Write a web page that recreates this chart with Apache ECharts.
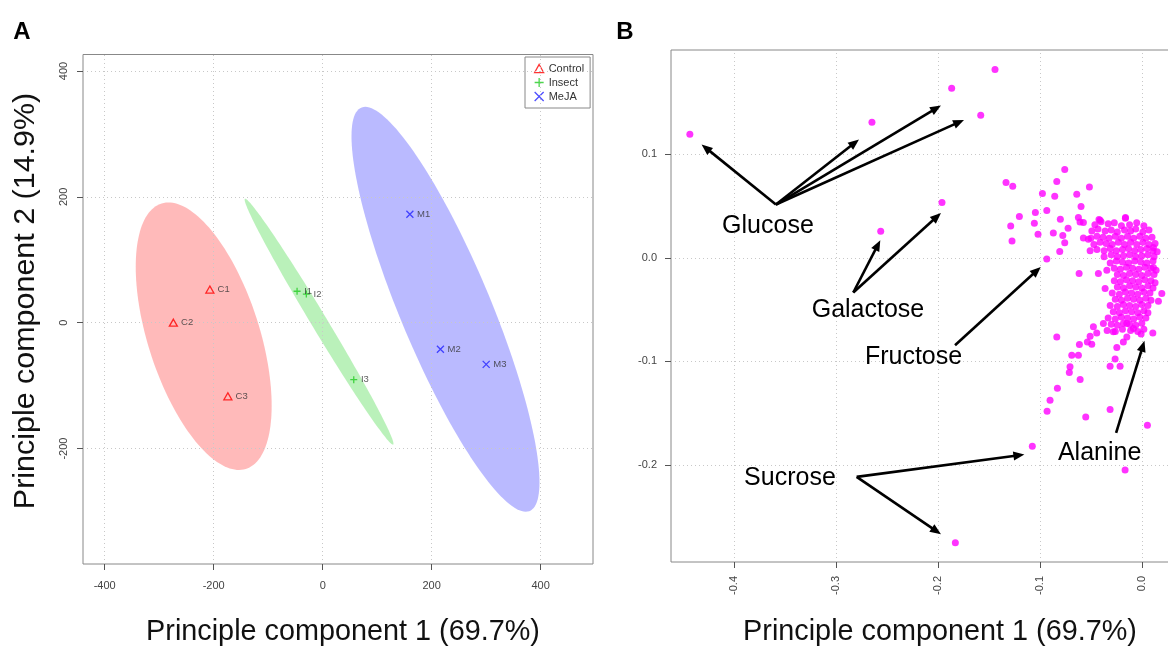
<!DOCTYPE html>
<html><head><meta charset="utf-8">
<script src="https://cdn.jsdelivr.net/npm/echarts@6/dist/echarts.min.js"></script>
<style>html,body{margin:0;padding:0;background:#fff}#c{width:1168px;height:648px}</style>
</head><body><div id="c"></div>
<script>
// ---------- Panel A: PCA scores ----------
const groupNames = ['Control', 'Insect', 'MeJA'];
const controlNames = ['C1', 'C2', 'C3'];
const controlX = [-207, -274, -174];
const controlY = [52.7, 0, -117];
const insectNames = ['I1', 'I2', 'I3'];
const insectX = [-47, -30, 57];
const insectY = [50, 45.5, -90.5];
const mejaNames = ['M1', 'M2', 'M3'];
const mejaX = [160, 216, 300];
const mejaY = [172.5, -42.3, -66.2];
const scoreTicksX = [-400, -200, 0, 200, 400];
const scoreTicksY = [-200, 0, 200, 400];
const scoreRangeX = [-439.8, 496];
const scoreRangeY = [-383.5, 426.3];

// ---------- Panel B: loadings ----------
const loadTicksX = [-0.4, -0.3, -0.2, -0.1, 0.0];
const loadTicksY = [-0.2, -0.1, 0.0, 0.1];
const loadRangeX = [-0.4618, 0.0404];
const loadRangeY = [-0.2936, 0.2007];
const loadOutliers = [
  [-0.4433, 0.1194], [-0.2647, 0.1310], [-0.1865, 0.1638], [-0.1440, 0.1819], [-0.1580, 0.1377],
  [-0.1960, 0.0535], [-0.2561, 0.0258], [-0.1332, 0.0728], [-0.1266, 0.0692], [-0.0975, 0.0622],
  [-0.0932, 0.0458], [-0.1201, 0.0400], [-0.1044, 0.0438], [-0.1054, 0.0335], [-0.1286, 0.0309],
  [-0.1018, 0.0229], [-0.1273, 0.0164], [-0.0932, -0.0010], [-0.1074, -0.1818], [-0.1829, -0.2751],
  [-0.0929, -0.1480], [-0.0900, -0.1374]
];
const loadScatter = [
  [-0.0756, 0.0853], [-0.0834, 0.0737], [-0.0514, 0.0685], [-0.0854, 0.0596], [-0.0638, 0.0615],
  [-0.0596, 0.0496], [-0.0799, 0.0374], [-0.0622, 0.0390], [-0.0606, 0.0347], [-0.0573, 0.0342],
  [-0.0723, 0.0287], [-0.0868, 0.0241], [-0.0775, 0.0216], [-0.0756, 0.0145], [-0.0805, 0.0062],
  [-0.0615, -0.0151], [-0.0409, 0.0364], [-0.0161, 0.0383], [-0.0573, 0.0193], [-0.0524, 0.0180],
  [-0.0507, 0.0068], [0.0114, 0.0100], [0.0114, -0.0093], [0.0196, -0.0344], [0.0163, -0.0418],
  [-0.0360, -0.0295], [-0.0426, -0.0151], [-0.0343, -0.0119], [-0.0475, -0.0666], [-0.0834, -0.0763],
  [-0.0007, -0.0736], [0.0108, -0.0724], [-0.0279, -0.0714], [-0.0377, -0.0633], [-0.0147, -0.0633],
  [-0.0082, -0.0681], [-0.0442, -0.0724], [-0.0507, -0.0756], [-0.0612, -0.0836], [-0.0534, -0.0811],
  [-0.0491, -0.0833], [-0.0147, -0.0763], [-0.0181, -0.0811], [-0.0245, -0.0865], [-0.0687, -0.0939],
  [-0.0622, -0.0939], [-0.0262, -0.0975], [-0.0311, -0.1045], [-0.0213, -0.1045], [-0.0704, -0.1052],
  [-0.0711, -0.1106], [-0.0605, -0.1174], [-0.0828, -0.1258], [-0.0311, -0.1463], [-0.0550, -0.1535],
  [0.0055, -0.1615], [-0.0164, -0.2049], [-0.0420, 0.0370], [-0.0160, 0.0390]
];
const loadCluster = [
  [-0.046,0.032],[-0.040,0.035],[-0.033,0.033],[-0.027,0.034],[-0.020,0.031],[-0.012,0.032],[-0.005,0.034],[0.002,0.031],
  [-0.049,0.026],[-0.043,0.028],[-0.036,0.026],[-0.030,0.027],[-0.024,0.025],[-0.017,0.027],[-0.011,0.026],[-0.006,0.028],[0.001,0.025],[0.007,0.027],
  [-0.050,0.019],[-0.044,0.021],[-0.038,0.020],[-0.032,0.019],[-0.026,0.021],[-0.020,0.019],[-0.014,0.021],[-0.008,0.019],[-0.002,0.021],[0.004,0.019],[0.010,0.020],
  [-0.047,0.013],[-0.041,0.015],[-0.035,0.014],[-0.029,0.013],[-0.023,0.015],[-0.017,0.013],[-0.011,0.015],[-0.005,0.013],[0.001,0.015],[0.007,0.013],[0.013,0.014],
  [-0.044,0.008],[-0.037,0.007],[-0.031,0.009],[-0.025,0.007],[-0.019,0.008],[-0.013,0.009],[-0.007,0.007],[-0.001,0.008],[0.005,0.009],[0.011,0.007],[0.015,0.006],
  [-0.037,0.001],[-0.030,0.003],[-0.024,0.001],[-0.018,0.002],[-0.012,0.003],[-0.006,0.001],[0.000,0.002],[0.006,0.003],[0.012,0.001],
  [-0.031,-0.005],[-0.025,-0.003],[-0.019,-0.004],[-0.013,-0.005],[-0.007,-0.003],[-0.001,-0.004],[0.005,-0.005],[0.011,-0.003],
  [-0.027,-0.010],[-0.021,-0.011],[-0.015,-0.009],[-0.009,-0.010],[-0.003,-0.011],[0.003,-0.009],[0.009,-0.010],[0.014,-0.012],
  [-0.024,-0.016],[-0.018,-0.017],[-0.012,-0.015],[-0.006,-0.016],[0.000,-0.017],[0.006,-0.015],[0.012,-0.016],
  [-0.027,-0.022],[-0.021,-0.023],[-0.015,-0.021],[-0.009,-0.022],[-0.003,-0.023],[0.003,-0.021],[0.009,-0.022],[0.013,-0.024],
  [-0.024,-0.028],[-0.018,-0.029],[-0.012,-0.027],[-0.006,-0.028],[0.000,-0.029],[0.006,-0.027],[0.011,-0.029],
  [-0.029,-0.034],[-0.022,-0.035],[-0.016,-0.033],[-0.010,-0.034],[-0.004,-0.035],[0.002,-0.033],[0.008,-0.034],
  [-0.026,-0.040],[-0.020,-0.041],[-0.014,-0.039],[-0.008,-0.040],[-0.002,-0.041],[0.004,-0.039],[0.009,-0.041],
  [-0.031,-0.046],[-0.024,-0.047],[-0.018,-0.045],[-0.012,-0.046],[-0.006,-0.047],[0.000,-0.045],[0.006,-0.046],
  [-0.028,-0.052],[-0.022,-0.053],[-0.016,-0.051],[-0.010,-0.052],[-0.004,-0.053],[0.002,-0.051],[0.006,-0.053],
  [-0.033,-0.058],[-0.026,-0.059],[-0.020,-0.057],[-0.014,-0.058],[-0.008,-0.059],[-0.002,-0.057],[0.004,-0.058],
  [-0.030,-0.064],[-0.024,-0.065],[-0.018,-0.063],[-0.012,-0.064],[-0.006,-0.065],[0.000,-0.063],
  [-0.034,-0.070],[-0.026,-0.071],[-0.019,-0.069],[-0.011,-0.070],[-0.004,-0.071],[0.002,-0.069]
];
// annotation labels and arrows (data units of panel B)
const annoNames = ['Glucose', 'Galactose', 'Fructose', 'Sucrose', 'Alanine'];
const annoLabelX = [-0.3667, -0.2686, -0.2239, -0.3451, -0.0414];
const annoLabelY = [0.0306, -0.0505, -0.0961, -0.2129, -0.1882];
const annoOriginX = [-0.3589, -0.2830, -0.1832, -0.2797, -0.0252];
const annoOriginY = [0.0515, -0.0334, -0.0843, -0.2114, -0.1689];
const arrowOwner = [0, 0, 0, 0, 1, 1, 2, 3, 3, 4];
const arrowTipX = [-0.4318, -0.2774, -0.1970, -0.1744, -0.2565, -0.1970, -0.0991, -0.1152, -0.1970, 0.0026];
const arrowTipY = [0.1095, 0.1143, 0.1471, 0.1332, 0.0171, 0.0434, -0.0087, -0.1898, -0.2667, -0.0801];

const FONT = "'Liberation Sans', Arial, Helvetica, sans-serif";

function mean(a) { return a.reduce((s, v) => s + v, 0) / a.length; }
function ellipse(xs, ys) {
  const n = xs.length, mx = mean(xs), my = mean(ys);
  let sxx = 0, syy = 0, sxy = 0;
  for (let i = 0; i < n; i++) {
    sxx += (xs[i] - mx) ** 2; syy += (ys[i] - my) ** 2; sxy += (xs[i] - mx) * (ys[i] - my);
  }
  sxx /= n - 1; syy /= n - 1; sxy /= n - 1;
  const a = Math.sqrt(sxx), b = sxy / a, c = Math.sqrt(Math.max(syy - b * b, 0)), k = Math.sqrt(5.991);
  const pts = [];
  for (let i = 0; i <= 160; i++) {
    const t = 2 * Math.PI * i / 160;
    pts.push([mx + k * a * Math.cos(t), my + k * (b * Math.cos(t) + c * Math.sin(t))]);
  }
  return { pts, mx, my };
}
const ells = [ellipse(controlX, controlY), ellipse(insectX, insectY), ellipse(mejaX, mejaY)];
const ellColors = ['rgba(255,0,0,0.27)', 'rgba(0,205,0,0.27)', 'rgba(0,0,255,0.27)'];
const ptColors = ['#FF0000', '#22CC22', '#2222FF'];
const symTri = 'path://M5,0L10,9L0,9Z';
const symPlus = 'path://M5,0L5,10M0,5L10,5';
const symCross = 'path://M0,0L10,10M10,0L0,10';
const syms = [symTri, symPlus, symCross];

function pointsData(names, xs, ys) { return names.map((n, i) => ({ name: n, value: [xs[i], ys[i]] })); }

const gridLineStyle = { type: [1, 3], color: '#c8c8c8', width: 1 };
const axisTickStyle = { show: true, inside: false, length: 6, lineStyle: { color: '#555', width: 1 } };
const noAxisLine = { show: false, onZero: false };

const scoreSeries = [
  { d: pointsData(controlNames, controlX, controlY) },
  { d: pointsData(insectNames, insectX, insectY) },
  { d: pointsData(mejaNames, mejaX, mejaY) }
].map((s, g) => ({
  type: 'scatter', name: groupNames[g], xAxisIndex: 0, yAxisIndex: 0, z: 5,
  data: s.d, symbol: syms[g], symbolSize: g === 0 ? [8, 7] : 7,
  itemStyle: { color: 'rgba(0,0,0,0)', borderColor: ptColors[g], borderWidth: 1.3 },
  label: { show: true, position: 'right', distance: 3, formatter: p => p.name, fontSize: 9.5, color: '#333', fontFamily: FONT },
  emphasis: { disabled: true }
}));

const ellipseSeries = ells.map((e, g) => ({
  type: 'custom', xAxisIndex: 0, yAxisIndex: 0, z: 1, silent: true, clip: true,
  data: [[e.mx, e.my]],
  renderItem: (params, api) => ({
    type: 'polygon',
    shape: { points: e.pts.map(p => api.coord(p)) },
    style: { fill: ellColors[g], stroke: null }
  })
}));

const gridMarkA = {
  type: 'scatter', xAxisIndex: 0, yAxisIndex: 0, data: [], z: 2, silent: true,
  markLine: {
    silent: true, symbol: 'none', label: { show: false }, lineStyle: gridLineStyle, animation: false,
    data: scoreTicksX.map(v => ({ xAxis: v })).concat(scoreTicksY.map(v => ({ yAxis: v })))
  }
};
const gridMarkB = {
  type: 'scatter', xAxisIndex: 1, yAxisIndex: 1, data: [], z: 2, silent: true,
  markLine: {
    silent: true, symbol: 'none', label: { show: false }, lineStyle: gridLineStyle, animation: false,
    data: loadTicksX.map(v => ({ xAxis: v })).concat(loadTicksY.map(v => ({ yAxis: v })))
  }
};

const loadSeries = {
  type: 'scatter', xAxisIndex: 1, yAxisIndex: 1, z: 5, clip: true,
  data: loadOutliers.concat(loadScatter, loadCluster),
  symbol: 'circle', symbolSize: 7, itemStyle: { color: '#FF00FF' }, emphasis: { disabled: true }
};

const arrowSeries = {
  type: 'custom', xAxisIndex: 1, yAxisIndex: 1, z: 6, silent: true, clip: false,
  data: arrowOwner.map((o, i) => [annoOriginX[o], annoOriginY[o], arrowTipX[i], arrowTipY[i]]),
  encode: { x: [0, 2], y: [1, 3] },
  renderItem: (params, api) => {
    const p0 = api.coord([api.value(0), api.value(1)]);
    const p1 = api.coord([api.value(2), api.value(3)]);
    const dx = p1[0] - p0[0], dy = p1[1] - p0[1], L = Math.hypot(dx, dy);
    const ux = dx / L, uy = dy / L, nx = -uy, ny = ux, hl = 11, hw = 4.5;
    const bx = p1[0] - ux * hl, by = p1[1] - uy * hl;
    return {
      type: 'group', children: [
        { type: 'line', shape: { x1: p0[0], y1: p0[1], x2: bx + ux * 2, y2: by + uy * 2 }, style: { stroke: '#000', lineWidth: 2.6 } },
        { type: 'polygon', shape: { points: [p1, [bx + nx * hw, by + ny * hw], [bx - nx * hw, by - ny * hw]] }, style: { fill: '#000' } }
      ]
    };
  }
};
const annoSeries = {
  type: 'custom', xAxisIndex: 1, yAxisIndex: 1, z: 7, silent: true, clip: false,
  data: annoNames.map((n, i) => [annoLabelX[i], annoLabelY[i], i]),
  renderItem: (params, api) => {
    const p = api.coord([api.value(0), api.value(1)]);
    return {
      type: 'text', x: p[0], y: p[1],
      style: { text: annoNames[api.value(2)], font: '25px ' + FONT, fill: '#000', textAlign: 'center', textVerticalAlign: 'middle' }
    };
  }
};

const option = {
  animation: false,
  backgroundColor: '#fff',
  grid: [
    { left: 83, top: 54.5, width: 510, height: 509.5, show: true, borderColor: '#888', borderWidth: 1, backgroundColor: 'transparent', containLabel: false, outerBoundsMode: 'none' },
    { left: 671, top: 50, width: 512, height: 512, show: true, borderColor: '#888', borderWidth: 1, backgroundColor: 'transparent', containLabel: false, outerBoundsMode: 'none' }
  ],
  xAxis: [
    { type: 'value', gridIndex: 0, min: scoreRangeX[0], max: scoreRangeX[1],
      axisLine: noAxisLine, splitLine: { show: false },
      axisTick: Object.assign({ customValues: scoreTicksX }, axisTickStyle),
      axisLabel: { customValues: scoreTicksX, margin: 16, fontSize: 11, color: '#444', fontFamily: FONT, formatter: v => String(v) } },
    { type: 'value', gridIndex: 1, min: loadRangeX[0], max: loadRangeX[1],
      axisLine: noAxisLine, splitLine: { show: false },
      axisTick: Object.assign({ customValues: loadTicksX }, axisTickStyle),
      axisLabel: { customValues: loadTicksX, rotate: 90, margin: 14, fontSize: 11, color: '#444', fontFamily: FONT, formatter: v => v.toFixed(1) } }
  ],
  yAxis: [
    { type: 'value', gridIndex: 0, min: scoreRangeY[0], max: scoreRangeY[1],
      axisLine: noAxisLine, splitLine: { show: false },
      axisTick: Object.assign({ customValues: scoreTicksY }, axisTickStyle),
      axisLabel: { customValues: scoreTicksY, rotate: 90, margin: 14, fontSize: 11, color: '#444', fontFamily: FONT, formatter: v => String(v) } },
    { type: 'value', gridIndex: 1, min: loadRangeY[0], max: loadRangeY[1],
      axisLine: noAxisLine, splitLine: { show: false },
      axisTick: Object.assign({ customValues: loadTicksY }, axisTickStyle),
      axisLabel: { customValues: loadTicksY, margin: 14, fontSize: 11, color: '#444', fontFamily: FONT, formatter: v => v.toFixed(1) } }
  ],
  legend: {
    left: 525, top: 57, orient: 'vertical', itemGap: 3, itemWidth: 9, itemHeight: 9,
    borderColor: '#888', borderWidth: 1, borderRadius: 0, padding: [6, 6, 6, 9],
    textStyle: { fontSize: 11, color: '#333', fontFamily: FONT, padding: [0, 0, 0, 0] },
    data: groupNames.map((n, g) => ({ name: n, icon: syms[g], itemStyle: { color: 'rgba(0,0,0,0)', borderColor: ptColors[g], borderWidth: 1.3 } })),
    selectedMode: false
  },
  graphic: [
    { type: 'text', x: 22, y: 32, style: { text: 'A', font: 'bold 24px ' + FONT, fill: '#000', textAlign: 'center', textVerticalAlign: 'middle' } },
    { type: 'text', x: 625, y: 32, style: { text: 'B', font: 'bold 24px ' + FONT, fill: '#000', textAlign: 'center', textVerticalAlign: 'middle' } },
    { type: 'text', x: 343, y: 632, style: { text: 'Principle component 1 (69.7%)', font: '28.8px ' + FONT, fill: '#111', textAlign: 'center', textVerticalAlign: 'middle' } },
    { type: 'text', x: 940, y: 632, style: { text: 'Principle component 1 (69.7%)', font: '28.8px ' + FONT, fill: '#111', textAlign: 'center', textVerticalAlign: 'middle' } },
    { type: 'text', x: 26, y: 301, rotation: Math.PI / 2, scaleX: 1.05, style: { text: 'Principle component 2 (14.9%)', font: '29px ' + FONT, fill: '#111', textAlign: 'center', textVerticalAlign: 'middle' } }
  ],
  series: [].concat(ellipseSeries, [gridMarkA, gridMarkB], scoreSeries, [loadSeries, arrowSeries, annoSeries])
};
const chart = echarts.init(document.getElementById('c'), null, { renderer: 'canvas' });
chart.setOption(option);
</script></body></html>
